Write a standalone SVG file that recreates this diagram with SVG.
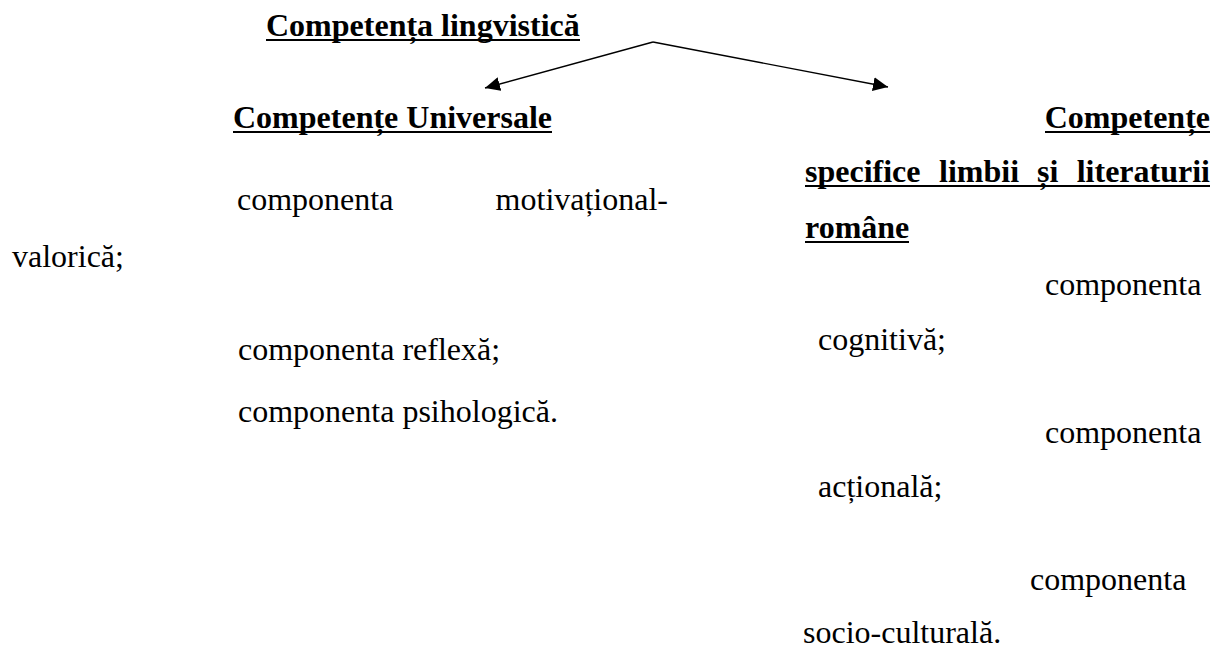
<svg xmlns="http://www.w3.org/2000/svg" width="1223" height="648" viewBox="0 0 1223 648">
  <defs>
    <style>
      text { font-family: "Liberation Serif", "Times New Roman", serif; font-size: 32px; fill: #000; }
      .b { font-weight: bold; }
      .ul { stroke: #000; stroke-width: 2.2; }
      .conn { stroke: #000; stroke-width: 1.4; fill: none; }
    </style>
    <marker id="arrow" viewBox="0 0 15 14" refX="15" refY="7" markerWidth="15" markerHeight="14" markerUnits="userSpaceOnUse" orient="auto">
      <path d="M0,0 L15,7 L0,14 z" fill="#000"/>
    </marker>
  </defs>
  <rect width="1223" height="648" fill="#fff"/>

  <!-- root heading -->
  <g id="root">
    <text class="b" x="266" y="36">Competența lingvistică</text>
    <line class="ul" x1="266" y1="40" x2="580" y2="40"/>
  </g>

  <!-- connectors from root to the two branches -->
  <g id="connectors">
    <path class="conn" d="M653,42 L485,88" marker-end="url(#arrow)"/>
    <path class="conn" d="M653,42 L888,87" marker-end="url(#arrow)"/>
  </g>

  <!-- left branch -->
  <g id="universal">
    <text class="b" x="233" y="128">Competențe Universale</text>
    <line class="ul" x1="233" y1="132" x2="552" y2="132"/>
    <text x="237" y="210">componenta</text>
    <text x="668" y="210" text-anchor="end">motivațional-</text>
    <text x="12" y="267">valorică;</text>
    <text x="238" y="360">componenta reflexă;</text>
    <text x="238" y="422">componenta psihologică.</text>
  </g>

  <!-- right branch -->
  <g id="specific">
    <text class="b" x="1210" y="128" text-anchor="end">Competențe</text>
    <line class="ul" x1="1045" y1="132" x2="1210" y2="132"/>
    <text class="b" x="805" y="182">specifice</text>
    <text class="b" x="939" y="182">limbii</text>
    <text class="b" x="1037" y="182">și</text>
    <text class="b" x="1210" y="182" text-anchor="end">literaturii</text>
    <line class="ul" x1="805" y1="186" x2="1210" y2="186"/>
    <text class="b" x="805" y="238">române</text>
    <line class="ul" x1="805" y1="242" x2="909" y2="242"/>
    <text x="1045" y="295">componenta</text>
    <text x="818" y="350">cognitivă;</text>
    <text x="1045" y="443">componenta</text>
    <text x="818" y="497">acțională;</text>
    <text x="1030" y="590">componenta</text>
    <text x="803" y="643">socio-culturală.</text>
  </g>
</svg>
